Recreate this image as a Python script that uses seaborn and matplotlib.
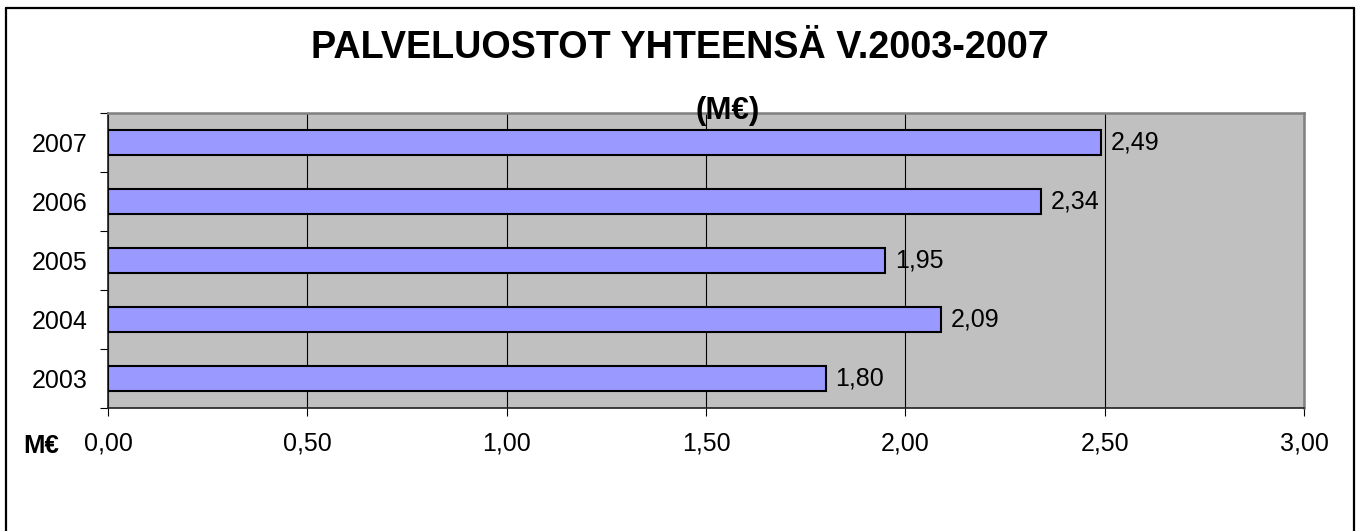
import matplotlib
matplotlib.use("Agg")
import matplotlib.pyplot as plt
from matplotlib import font_manager
from matplotlib.ticker import FuncFormatter, MultipleLocator, FixedLocator
from matplotlib.lines import Line2D
import seaborn as sns
import pandas as pd

years = ["2007", "2006", "2005", "2004", "2003"]
values = [2.49, 2.34, 1.95, 2.09, 1.80]
title_line1 = "PALVELUOSTOT YHTEENSÄ V.2003-2007"
title_line2 = "(M€)"
axis_unit = "M€"

sns.set_theme(style="white")
plt.rcParams["font.family"] = ["Liberation Sans", "DejaVu Sans"]
plt.rcParams["text.color"] = "black"

def has_font(name):
    try:
        font_manager.findfont(font_manager.FontProperties(family=name), fallback_to_default=False)
        return True
    except Exception:
        return False

narrow = has_font("Liberation Sans Narrow")

df = pd.DataFrame({"year": years, "value": values})

W, H = 1359, 531
fig = plt.figure(figsize=(W / 100, H / 100), dpi=100)
fig.patch.set_facecolor("white")

ax_l, ax_r, ax_t, ax_b = 108, 1304, 113, 408
ax = fig.add_axes([ax_l / W, 1 - ax_b / H, (ax_r - ax_l) / W, (ax_b - ax_t) / H])
ax.set_facecolor("#c0c0c0")

sns.barplot(data=df, y="year", x="value", order=years, orient="h",
            color="#9999ff", edgecolor="black", linewidth=1.5, width=0.41,
            saturation=1, ax=ax, zorder=3)

ax.set_xlim(0, 3)
ax.set_ylim(4.5, -0.5)
ax.xaxis.set_major_locator(MultipleLocator(0.5))
ax.xaxis.set_major_formatter(FuncFormatter(lambda v, p: f"{v:.2f}".replace(".", ",")))
ax.grid(axis="x", color="black", linewidth=0.8, zorder=1)
ax.set_axisbelow(True)

ax.set_xlabel("")
ax.set_ylabel("")

# ticks
ax.tick_params(axis="x", which="major", direction="out", length=6, width=0.8,
               color="black", labelsize=18, pad=11, bottom=True, labelcolor="black")
ax.tick_params(axis="y", which="major", length=0, labelsize=18, pad=15, left=True,
               labelcolor="black")
ax.yaxis.set_minor_locator(FixedLocator([-0.5, 0.5, 1.5, 2.5, 3.5, 4.5]))
ax.tick_params(axis="y", which="minor", direction="out", length=6, width=0.8,
               color="black", left=True)

for side in ["left", "bottom"]:
    ax.spines[side].set_color("#202020")
    ax.spines[side].set_linewidth(1.2)
for side in ["top", "right"]:
    ax.spines[side].set_color("#808080")
    ax.spines[side].set_linewidth(1.8)

# value labels
for i, v in enumerate(values):
    ax.annotate(f"{v:.2f}".replace(".", ","), xy=(v, i), xytext=(7, 0),
                textcoords="offset points", va="center", ha="left",
                fontsize=18, color="black", zorder=5)

# titles
if narrow:
    fig.text(680 / W, 1 - 49 / H, title_line1, ha="center", va="center", color="black",
             fontsize=32, fontweight="bold", family=["Liberation Sans Narrow", "DejaVu Sans"])
    fig.text(728 / W, 1 - 111 / H, title_line2, ha="center", va="center", color="black",
             fontsize=24, fontweight="bold", family=["Liberation Sans Narrow", "DejaVu Sans"])
else:
    fig.text(680 / W, 1 - 48 / H, title_line1, ha="center", va="center", color="black",
             fontsize=27.2, fontweight="bold")
    fig.text(728 / W, 1 - 111 / H, title_line2, ha="center", va="center", color="black",
             fontsize=22.5, fontweight="bold")

fig.text(41 / W, 1 - 446 / H, axis_unit, ha="center", va="center",
         fontsize=18.5, fontweight="bold", color="black")

# outer chart border (left, top, right)
bx0, bx1, by0 = 6 / W, 1354 / W, 1 - 8 / H
for xs, ys in [([bx0, bx0], [0, by0]), ([bx0, bx1], [by0, by0]), ([bx1, bx1], [by0, 0])]:
    fig.add_artist(Line2D(xs, ys, transform=fig.transFigure, color="black", linewidth=1.6))

fig.savefig("out.png", dpi=100, facecolor="white")
